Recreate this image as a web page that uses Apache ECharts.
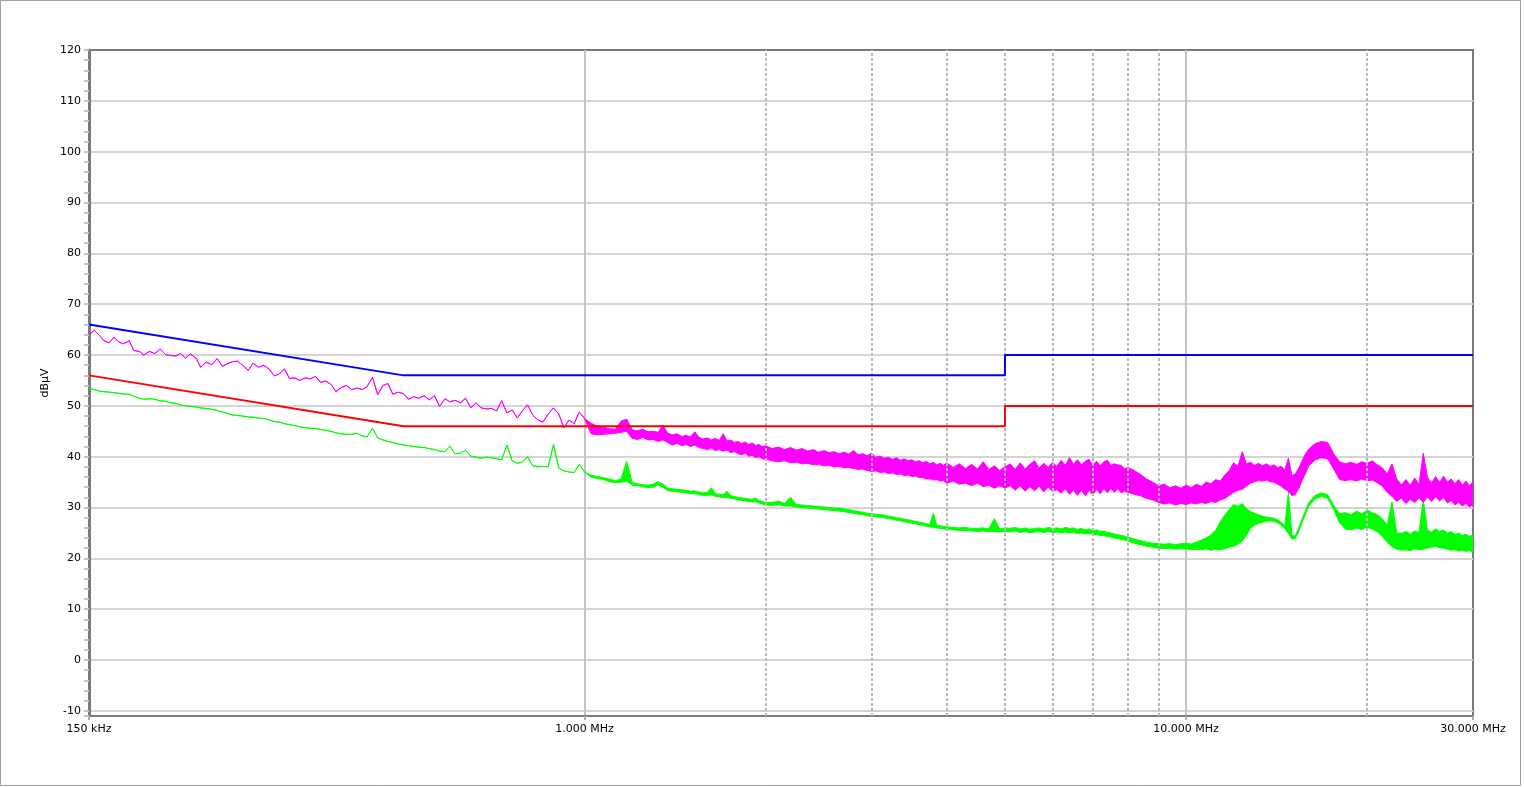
<!DOCTYPE html>
<html><head><meta charset="utf-8">
<script src="https://cdn.jsdelivr.net/npm/echarts@6.0.0/dist/echarts.min.js"></script>
<style>html,body{margin:0;padding:0;background:#fff}#chart{width:1524px;height:787px}</style>
</head><body><div id="chart"></div>
<script>
// ---- x tick labels ----
const xTickValues = [0.15, 1, 10, 30];
const xTickLabels = ['150 kHz', '1.000 MHz', '10.000 MHz', '30.000 MHz'];
// dashed frequency grid lines (MHz)
const dashedFreqs = [2, 3, 4, 5, 6, 7, 8, 9, 20];

// ---- limit lines ----
const limitFreqs = [0.15, 0.5, 5, 5, 30];
const qpLimit = [66, 56, 56, 60, 60];
const avLimit = [56, 46, 46, 50, 50];

// ---- low-frequency sweep (MHz) ----
const lfFreqs = [0.150,0.153,0.156,0.159,0.162,0.165,0.168,0.171,0.175,0.178,
0.182,0.185,0.189,0.193,0.197,0.201,0.205,0.209,0.213,0.217,
0.221,0.226,0.230,0.235,0.240,0.245,0.250,0.255,0.260,0.265,
0.270,0.276,0.281,0.287,0.293,0.299,0.305,0.311,0.317,0.323,
0.330,0.336,0.343,0.350,0.357,0.364,0.371,0.379,0.386,0.394,
0.402,0.410,0.418,0.427,0.435,0.444,0.453,0.462,0.471,0.480,
0.490,0.500,0.510,0.520,0.530,0.541,0.552,0.563,0.574,0.586,
0.597,0.609,0.622,0.634,0.647,0.660,0.673,0.686,0.700,0.714,
0.728,0.743,0.758,0.773,0.788,0.804,0.820,0.837,0.853,0.870,
0.888,0.906,0.924,0.942,0.961,0.980,1.000];
const peakLF = [63.9,64.9,63.9,62.8,62.4,63.5,62.6,62.2,62.8,60.9,
60.7,60.0,60.7,60.3,61.2,60.1,59.9,59.8,60.3,59.4,
60.2,59.4,57.6,58.6,58.1,59.3,57.8,58.3,58.7,58.8,
58.0,57.0,58.4,57.6,58.0,57.2,55.9,56.3,57.3,55.4,
55.5,55.0,55.5,55.3,55.8,54.6,54.9,54.2,52.8,53.6,
54.0,53.2,53.5,53.2,53.8,55.6,52.2,54.0,54.4,52.3,
52.7,52.4,51.3,51.8,51.5,52.0,51.2,52.0,49.9,51.4,
50.8,51.1,50.6,51.5,49.6,50.6,49.6,49.4,49.5,49.0,
51.0,48.6,49.2,47.6,49.0,50.2,48.2,47.2,46.8,48.4,
49.6,48.4,45.7,47.2,46.5,48.8,47.5];
const avgLF = [53.4,53.2,52.9,52.8,52.7,52.6,52.5,52.3,52.3,51.9,
51.5,51.3,51.4,51.3,51.0,50.9,50.6,50.5,50.2,50.0,
49.9,49.8,49.6,49.5,49.3,49.1,48.8,48.5,48.2,48.1,
48.0,47.8,47.8,47.6,47.5,47.2,46.9,46.8,46.5,46.3,
46.1,45.9,45.7,45.6,45.5,45.4,45.2,45.0,44.7,44.5,
44.4,44.4,44.6,44.1,43.9,45.6,43.7,43.3,43.0,42.8,
42.5,42.3,42.2,42.0,41.9,41.8,41.6,41.4,41.1,41.0,
42.1,40.6,40.7,41.3,40.1,39.9,39.7,39.9,39.8,39.6,
39.4,42.3,39.2,38.7,38.9,40.0,38.2,38.0,38.1,38.0,
42.4,37.8,37.2,37.0,36.9,38.5,37.0];

// ---- high-frequency sweep (MHz): noise band upper / lower envelopes ----
const hfFreqs = [
1.025,1.05,1.075,1.1,1.125,1.15,1.175,1.2,1.225,1.25,1.275,1.3,1.325,1.35,1.375,1.4,1.425,1.45,1.475,1.5,1.525,1.55,1.575,1.6,1.625,1.65,1.675,1.7,1.725,1.75,1.775,1.8,1.825,1.85,1.875,1.9,1.925,1.95,1.975,
2.0,2.05,2.1,2.15,2.2,2.25,2.3,2.35,2.4,2.45,2.5,2.55,2.6,2.65,2.7,2.75,2.8,2.85,2.9,2.95,3.0,3.05,3.1,3.15,3.2,3.25,3.3,3.35,3.4,3.45,3.5,3.55,3.6,3.65,3.7,3.75,3.8,3.85,3.9,3.95,
4.0,4.1,4.2,4.3,4.4,4.5,4.6,4.7,4.8,4.9,5.0,5.1,5.2,5.3,5.4,5.5,5.6,5.7,5.8,5.9,6.0,6.1,6.2,6.3,6.4,6.5,6.6,6.7,6.8,6.9,7.0,7.1,7.2,7.3,7.4,7.5,7.6,7.7,7.8,7.9,
8.0,8.2,8.4,8.6,8.8,9.0,9.2,9.4,9.6,9.8,10.0,10.2,10.4,10.6,10.8,11.0,11.2,11.4,11.6,11.8,12.0,12.2,12.4,12.6,12.8,13.0,13.2,13.4,13.6,13.8,14.0,14.2,14.4,14.6,14.8,15.0,15.2,15.4,15.6,15.8,
16.0,16.4,16.8,17.2,17.6,18.0,18.4,18.8,19.2,19.6,20.0,20.4,20.8,21.2,21.6,22.0,22.4,22.8,23.2,23.6,24.0,24.4,24.8,25.2,25.6,26.0,26.4,26.8,27.2,27.6,28.0,28.4,28.8,29.2,29.6,30.0];
const peakHi = [
46.6,46.0,45.8,45.5,45.4,47.0,47.4,45.3,45.1,45.4,44.9,45.0,44.8,46.2,44.6,44.3,44.5,44.0,44.2,43.9,44.9,43.8,43.5,43.7,43.3,43.6,43.2,44.5,43.1,43.3,42.8,43.0,42.6,42.9,42.4,42.7,42.2,42.4,42.0,
42.2,41.6,41.9,41.4,41.8,41.3,41.6,41.1,41.4,40.9,41.2,40.8,41.0,40.6,40.9,40.5,41.2,40.4,40.6,40.2,40.7,39.9,40.1,39.7,39.9,39.5,39.8,39.3,39.6,39.2,39.4,39.0,39.2,38.8,39.1,38.6,38.9,38.4,38.7,38.3,
38.8,37.9,38.6,37.7,38.5,37.6,39.0,37.5,38.2,37.3,38.0,38.6,37.5,38.8,37.6,38.5,39.2,37.8,38.7,37.9,38.9,38.1,39.3,38.3,39.8,38.5,39.4,38.4,39.1,39.5,38.3,39.1,38.2,39.0,39.3,38.3,38.6,38.4,38.3,37.6,
37.9,37.3,36.5,35.6,35.0,34.3,34.6,33.9,34.3,33.8,34.4,33.9,34.6,34.2,35.0,34.7,35.5,35.2,36.4,37.3,38.8,38.1,41.0,38.6,38.9,38.3,38.7,38.2,38.6,38.1,38.4,37.9,38.1,37.4,39.7,36.3,36.6,37.8,39.2,40.6,
41.5,42.6,43.0,42.8,40.6,39.0,38.6,38.9,38.5,39.0,38.7,39.2,38.4,37.8,36.6,38.6,35.6,34.5,35.5,34.4,35.8,34.6,40.7,35.9,34.8,36.1,34.9,36.2,35.0,35.6,34.7,35.5,34.4,35.2,34.3,35.1];
const peakLo = [
44.5,44.3,44.4,44.5,44.6,44.8,45.0,43.6,43.4,43.8,43.3,43.4,43.0,43.3,42.8,42.3,42.6,42.2,42.4,42.0,42.3,41.8,41.6,41.4,41.7,41.2,41.4,41.1,41.3,40.8,41.0,40.6,40.4,40.7,40.1,40.3,39.8,40.0,39.6,
39.5,39.2,39.0,39.2,38.8,38.9,38.6,38.7,38.4,38.5,38.2,38.3,38.0,38.1,37.8,37.9,37.7,37.5,37.6,37.3,37.1,37.2,36.9,37.0,36.7,36.8,36.5,36.6,36.3,36.4,36.1,36.2,35.9,35.9,35.6,35.7,35.4,35.5,35.2,35.3,
34.8,35.2,34.6,34.8,34.3,34.8,34.1,34.4,33.8,34.3,33.8,34.3,33.4,34.3,33.2,34.1,33.3,34.2,33.1,34.0,33.2,33.5,32.8,33.7,32.6,33.4,32.4,33.4,32.3,33.4,32.5,33.6,32.7,33.7,32.9,33.8,33.0,33.7,32.9,33.2,
33.0,32.6,32.3,31.8,31.5,31.0,30.7,30.9,30.5,30.8,30.6,30.9,30.7,31.0,30.8,31.2,31.0,31.5,31.8,32.4,33.0,33.4,33.6,34.2,34.8,35.1,35.3,35.2,35.4,35.1,35.0,34.6,34.2,33.6,33.2,32.3,32.6,33.8,35.3,36.8,
38.2,39.4,39.8,39.6,37.6,35.5,35.3,35.5,35.2,35.6,35.3,35.4,34.9,34.2,33.0,32.2,31.2,31.9,30.8,31.6,31.0,31.9,31.0,32.1,31.2,32.1,31.3,32.0,30.9,31.4,30.5,31.0,30.3,30.8,30.1,30.6];
const avgHi = [
36.4,36.1,35.9,35.6,35.3,35.6,39.1,34.9,34.7,34.5,34.4,34.6,35.1,34.6,33.8,33.7,33.6,33.5,33.4,33.2,33.3,33.0,32.9,33.0,33.9,32.7,32.6,32.5,33.2,32.3,32.2,32.0,31.9,31.8,31.7,31.6,31.9,31.4,31.2,
31.0,31.0,31.3,30.8,32.0,30.6,30.5,30.4,30.3,30.2,30.1,30.0,29.9,29.9,29.7,29.6,29.4,29.2,29.1,28.9,28.8,28.7,28.6,28.5,28.3,28.2,28.0,27.9,27.7,27.6,27.4,27.3,27.1,27.0,26.8,26.7,28.9,26.5,26.4,26.3,
26.2,26.1,26.0,26.1,25.9,25.9,26.0,25.8,27.8,25.8,26.0,25.9,26.1,25.8,26.0,25.7,25.9,26.0,25.8,26.1,25.9,26.0,25.8,26.1,25.9,26.0,25.7,25.9,25.6,25.8,25.5,25.6,25.3,25.4,25.1,25.0,24.8,24.7,24.5,24.4,
24.2,23.8,23.5,23.2,23.0,22.9,22.8,22.9,22.7,22.9,23.0,22.8,23.2,23.6,24.0,24.6,25.5,27.2,28.5,29.6,30.6,30.2,30.8,29.8,29.2,28.9,28.6,28.3,28.1,28.0,27.9,27.6,27.1,26.4,33.2,24.4,24.5,26.0,27.8,29.4,
31.0,32.4,32.9,32.5,30.4,28.8,29.0,28.6,29.3,28.8,29.5,29.0,28.6,27.8,26.5,31.1,25.0,24.9,25.3,24.8,25.4,25.1,31.5,25.6,25.2,25.8,25.3,25.6,25.0,25.3,24.7,25.0,24.5,24.8,24.3,24.6];
const avgLo = [
36.0,35.7,35.5,35.1,34.9,35.0,35.2,34.4,34.3,34.1,33.9,34.0,34.5,34.0,33.3,33.2,33.1,33.0,32.9,32.7,32.8,32.5,32.4,32.4,32.5,32.2,32.1,32.0,32.0,31.8,31.7,31.5,31.4,31.3,31.2,31.1,31.2,30.9,30.7,
30.5,30.4,30.6,30.3,30.3,30.1,30.0,29.9,29.8,29.7,29.6,29.5,29.4,29.3,29.2,29.0,28.9,28.7,28.6,28.4,28.3,28.2,28.1,28.0,27.8,27.7,27.5,27.4,27.2,27.1,26.9,26.8,26.6,26.5,26.3,26.2,26.1,26.0,25.9,25.8,
25.7,25.6,25.5,25.5,25.4,25.3,25.4,25.3,25.3,25.2,25.3,25.2,25.4,25.1,25.3,25.0,25.2,25.3,25.1,25.3,25.1,25.2,25.0,25.2,25.0,25.1,24.9,25.0,24.8,24.9,24.7,24.7,24.5,24.5,24.3,24.2,24.0,23.9,23.7,23.6,
23.4,23.0,22.7,22.4,22.2,22.0,21.9,22.0,21.8,21.9,21.9,21.7,21.8,21.7,21.9,21.6,21.8,21.7,21.9,22.2,22.4,22.8,23.4,24.5,26.0,26.5,26.9,27.1,27.3,27.4,27.3,27.0,26.5,25.8,24.9,23.8,23.9,25.3,27.1,28.7,
30.3,31.7,32.2,31.8,29.6,27.0,25.8,25.6,26.0,25.7,26.1,25.8,25.2,24.3,23.2,22.3,21.8,21.6,21.7,21.5,21.9,21.7,21.8,22.0,22.2,22.4,22.1,22.0,21.8,21.6,21.7,21.5,21.6,21.4,21.5,21.3];

// ---- build ----
const FONT = 'DejaVu Sans';
const allFreqs = lfFreqs.concat(hfFreqs);
const peakUpper = peakLF.concat(peakHi), peakLower = peakLF.concat(peakLo);
const avgUpper = avgLF.concat(avgHi), avgLower = avgLF.concat(avgLo);

function band(name, color, upper, lower, z) {
  return {
    type: 'custom', name: name, coordinateSystem: 'cartesian2d', clip: true, silent: true, z: z,
    animation: false,
    data: [[allFreqs[0], upper[0]]],
    renderItem: function (params, api) {
      const pts = [];
      for (let i = 0; i < allFreqs.length; i++) pts.push(api.coord([allFreqs[i], upper[i]]));
      for (let i = allFreqs.length - 1; i >= 0; i--) pts.push(api.coord([allFreqs[i], lower[i]]));
      return { type: 'polygon', shape: { points: pts },
        style: { fill: color, stroke: color, lineWidth: 1, lineJoin: 'round' } };
    }
  };
}
function limitLine(name, color, vals) {
  return { type: 'line', name: name, data: limitFreqs.map((f, i) => [f, vals[i]]),
    showSymbol: false, symbol: 'none', silent: true, z: 5, animation: false,
    lineStyle: { color: color, width: 2 } };
}
function xLabel(v) {
  let best = 0;
  for (let i = 1; i < xTickValues.length; i++) {
    if (Math.abs(Math.log10(v) - Math.log10(xTickValues[i])) < Math.abs(Math.log10(v) - Math.log10(xTickValues[best]))) best = i;
  }
  return Math.abs(Math.log10(v) - Math.log10(xTickValues[best])) < 0.01 ? xTickLabels[best] : '';
}

const chart = echarts.init(document.getElementById('chart'));
chart.setOption({
  animation: false,
  backgroundColor: '#ffffff',
  grid: { left: 89, right: 51, top: 50, bottom: 71, show: true, borderColor: '#7a7a7a', borderWidth: 2, backgroundColor: 'transparent' },
  graphic: [{ type: 'rect', silent: true, z: 100,
    shape: { x: 0.5, y: 0.5, width: 1520, height: 785 },
    style: { fill: null, stroke: '#a0a0a0', lineWidth: 1 } }],
  xAxis: {
    type: 'log', logBase: 10, min: 0.15, max: 30,
    axisLine: { show: true, onZero: false, lineStyle: { color: '#7a7a7a', width: 2 } },
    axisTick: { show: true, length: 4, lineStyle: { color: '#b0b0b0', width: 2 } },
    axisLabel: { formatter: xLabel, margin: 8, fontFamily: FONT, fontSize: 11, color: '#000', showMinLabel: true, showMaxLabel: true },
    splitLine: { show: true, showMinLine: false, showMaxLine: false, lineStyle: { color: '#c4c4c4', width: 2 } },
    minorTick: { show: false }, minorSplitLine: { show: false }
  },
  yAxis: {
    type: 'value', min: -11, max: 120, minInterval: 10, maxInterval: 10, splitNumber: 13,
    name: 'dBµV', nameLocation: 'middle', nameGap: 38, nameMoveOverlap: false,
    nameTextStyle: { fontFamily: FONT, fontSize: 11, color: '#000' },
    axisLine: { show: true, onZero: false, lineStyle: { color: '#7a7a7a', width: 3 } },
    axisTick: { show: true, length: 5, lineStyle: { color: '#c4c4c4', width: 2 } },
    minorTick: { show: true, splitNumber: 5, length: 5, lineStyle: { color: '#c4c4c4', width: 2 } },
    axisLabel: { formatter: function (v) { return v < -10 ? '' : String(v); }, margin: 8, fontFamily: FONT, fontSize: 11, color: '#000' },
    splitLine: { show: true, showMinLine: false, showMaxLine: false, lineStyle: { color: '#d4d4d4', width: 2 } }
  },
  series: [
    { type: 'line', data: [], silent: true, z: 1,
      markLine: { silent: true, animation: false, symbol: ['none', 'none'], label: { show: false },
        lineStyle: { type: [3, 2], color: '#b8b8b8', width: 2 },
        data: dashedFreqs.map(f => ({ xAxis: f })) } },
    band('Average', '#00ff00', avgUpper, avgLower, 2),
    band('Peak', '#ff00ff', peakUpper, peakLower, 3),
    limitLine('QP limit', '#0000ff', qpLimit),
    limitLine('AV limit', '#ff0000', avLimit)
  ]
});
</script></body></html>
